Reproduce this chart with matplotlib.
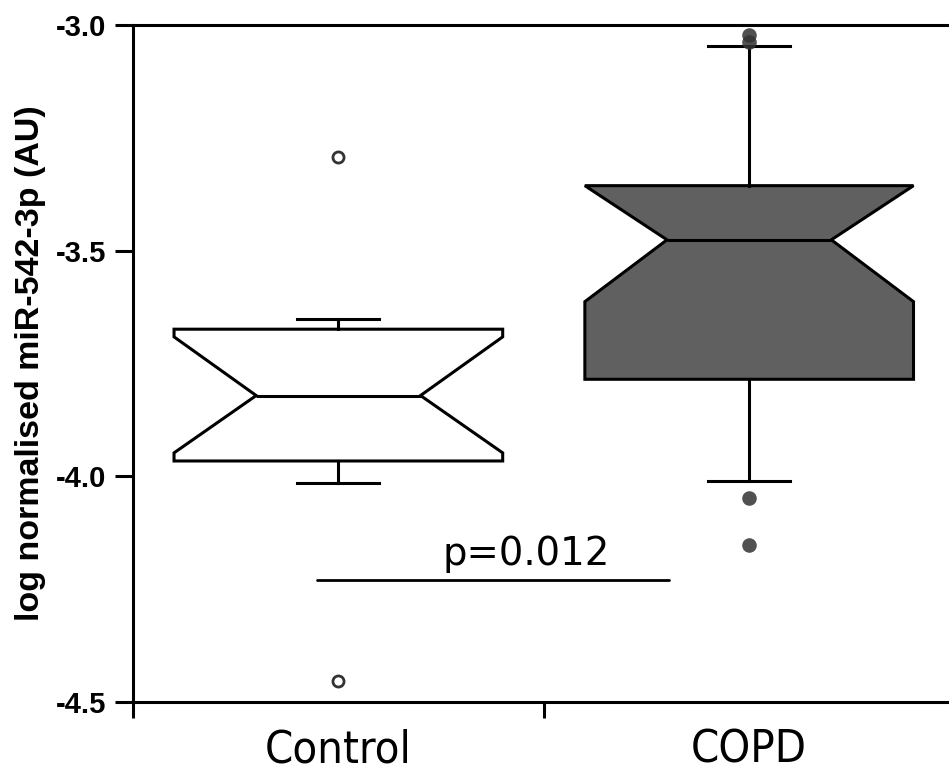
import matplotlib
matplotlib.use("Agg")
import matplotlib.pyplot as plt
from matplotlib.ticker import FixedLocator


# Data -----------------------------------------------------------------

groups = ["Control", "COPD"]

medians = [-3.821, -3.476]
q1 = [-3.966, -3.785]
q3 = [-3.674, -3.356]
whisker_low = [-4.015, -4.010]
whisker_high = [-3.652, -3.046]
notch_low = [-3.948, -3.613]
notch_high = [-3.691, -3.356]

control_outliers = [-3.293, -4.454]
copd_outliers = [-3.022, -3.037, -4.049, -4.152]

y_ticks = [-4.5, -4.0, -3.5, -3.0]

p_label = "p=0.012"
p_line_y = -4.230


# Plot -----------------------------------------------------------------

plt.rcParams["axes.unicode_minus"] = False

stats = []
for i, name in enumerate(groups):
    stats.append({"label": name,
                  "med": medians[i], "q1": q1[i], "q3": q3[i],
                  "whislo": whisker_low[i], "whishi": whisker_high[i],
                  "cilo": notch_low[i], "cihi": notch_high[i],
                  "fliers": [control_outliers, copd_outliers][i]})

fig = plt.figure(figsize=(9.49, 7.71), dpi=100)
ax = fig.add_axes([0.1401, 0.0895, 0.8658, 0.8781])

lw = 2.2
parts = ax.bxp(stats, positions=[0, 1], widths=0.8, capwidths=0.2,
               shownotches=True, patch_artist=True,
               boxprops=dict(linewidth=lw, edgecolor="black"),
               medianprops=dict(linewidth=lw, color="black"),
               whiskerprops=dict(linewidth=lw, color="black"),
               capprops=dict(linewidth=lw, color="black"))

parts["boxes"][0].set_facecolor("white")
parts["boxes"][1].set_facecolor("#606060")

parts["fliers"][0].set(marker="o", markersize=8, markeredgewidth=2,
                       markerfacecolor="white", markeredgecolor="#333333")
parts["fliers"][1].set(marker="o", markersize=10.5, markeredgewidth=0,
                       markerfacecolor="#333333", alpha=0.85)

# significance bar
ax.plot([-0.051, 0.805], [p_line_y, p_line_y], color="black", linewidth=2,
        solid_capstyle="round")
ax.text(0.457, -4.197, p_label, ha="center", va="baseline",
        fontsize=27.8, family="DejaVu Sans")

ax.set_xlim(-0.5, 1.5)
ax.set_ylim(-4.5, -3.0)

ax.spines["right"].set_visible(False)
for side in ["left", "bottom", "top"]:
    ax.spines[side].set_linewidth(lw)

ax.set_yticks(y_ticks)
ax.tick_params(axis="y", direction="out", length=13, width=lw, pad=6,
               labelsize=21, labelfontfamily="Liberation Sans")

ax.set_xticks([0, 1])
ax.set_xticklabels(groups)
ax.xaxis.set_minor_locator(FixedLocator([-0.5, 0.5, 1.5]))
ax.tick_params(axis="x", which="major", length=0, pad=19, labelsize=32.5,
               labelfontfamily="DejaVu Sans")
ax.tick_params(axis="x", which="minor", direction="out", length=11.5, width=lw)

for lab in ax.get_yticklabels():
    lab.set_fontweight("bold")
for lab in ax.get_xticklabels():
    lab.set_fontstretch("condensed")

ax.set_ylabel("log normalised miR-542-3p (AU)", fontsize=24.5,
              fontweight="bold", family="Liberation Sans", labelpad=7)

fig.savefig("out.png", dpi=100)
